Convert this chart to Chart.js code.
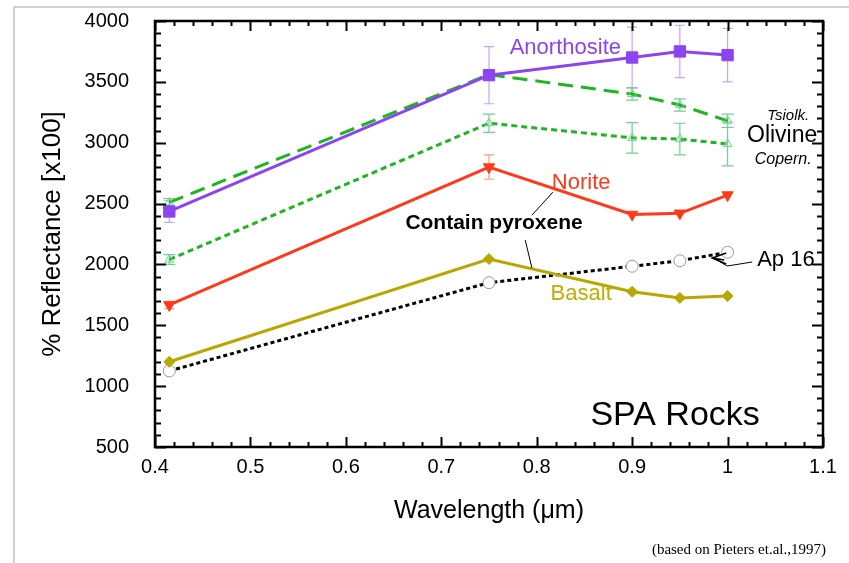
<!DOCTYPE html>
<html><head><meta charset="utf-8">
<script src="https://cdn.jsdelivr.net/npm/chart.js@4.4.0/dist/chart.umd.min.js"></script>
<style>html,body{margin:0;padding:0;background:#fff;overflow:hidden}</style>
</head><body>
<canvas id="c" width="849" height="563"></canvas>
<script>
// ---- data ----
const wavelengths = [0.415, 0.75, 0.9, 0.95, 1.0];
const anorthosite = [2435, 3555, 3700, 3750, 3720];
const anorthositeErr = [90, 235, 250, 215, 220];
const olivineTsiolk = [2510, 3560, 3400, 3310, 3180];
const olivineTsiolkErr = [30, 0, 50, 50, 55];
const olivineCopern = [2040, 3160, 3040, 3030, 2990];
const olivineCopernErr = [40, 75, 125, 130, 180];
const norite = [1667, 2800, 2410, 2420, 2570];
const noriteErr = [30, 100, 0, 0, 0];
const basalt = [1200, 2045, 1775, 1725, 1740];
const ap16 = [1125, 1850, 1985, 2030, 2100];
const xTickLabels = ['0.4','0.5','0.6','0.7','0.8','0.9','1','1.1'];
const yTickLabels = ['500','1000','1500','2000','2500','3000','3500','4000'];

const SANS = '"Liberation Sans", Arial, Helvetica, sans-serif';
const pts = arr => arr.map((v, i) => ({x: wavelengths[i], y: v}));

const PURPLE = '#8a44f0', GREEN = '#1fb51f', LGREEN = '#6fd08f', RED = '#ff3a1a', OLIVE = '#b7a700';

const frameAndErrors = {
  id: 'frameAndErrors',
  beforeDraw(chart) {
    const ctx = chart.ctx;
    ctx.save();
    ctx.strokeStyle = '#c4c4c4';
    ctx.lineWidth = 1.5;
    ctx.beginPath();
    ctx.moveTo(14, 563); ctx.lineTo(14, 7); ctx.lineTo(849, 7);
    ctx.stroke();
    ctx.restore();
  },
  beforeDatasetsDraw(chart) {
    const ctx = chart.ctx, xs = chart.scales.x, ys = chart.scales.y;
    ctx.save();
    chart.data.datasets.forEach(ds => {
      if (!ds.errors) return;
      ctx.strokeStyle = ds.errColor;
      ctx.lineWidth = 1.2;
      ds.data.forEach((p, i) => {
        const e = ds.errors[i];
        if (!e) return;
        const px = xs.getPixelForValue(p.x);
        const y1 = ys.getPixelForValue(p.y + e), y2 = ys.getPixelForValue(p.y - e);
        const w = ds.capWidth;
        ctx.beginPath();
        ctx.moveTo(px, y1); ctx.lineTo(px, y2);
        ctx.moveTo(px - w, y1); ctx.lineTo(px + w, y1);
        ctx.moveTo(px - w, y2); ctx.lineTo(px + w, y2);
        ctx.stroke();
      });
    });
    ctx.restore();
  },
  afterDraw(chart) {
    const ctx = chart.ctx, xs = chart.scales.x, ys = chart.scales.y;
    const a = chart.chartArea;
    ctx.save();
    ctx.strokeStyle = '#000';
    ctx.lineWidth = 2;
    for (let k = 0; k <= 35; k++) {
      const v = 0.4 + k * 0.02;
      const px = Math.round(xs.getPixelForValue(v)) + 0.5;
      const len = (k % 5 === 0) ? 10 : 5;
      ctx.beginPath();
      ctx.moveTo(px, a.bottom); ctx.lineTo(px, a.bottom - len);
      ctx.moveTo(px, a.top); ctx.lineTo(px, a.top + len);
      ctx.stroke();
    }
    for (let k = 0; k <= 35; k++) {
      const v = 500 + k * 100;
      const py = Math.round(ys.getPixelForValue(v)) + 0.5;
      const len = (k % 5 === 0) ? 11 : 6;
      ctx.beginPath();
      ctx.moveTo(a.left, py); ctx.lineTo(a.left + len, py);
      ctx.moveTo(a.right, py); ctx.lineTo(a.right - len, py);
      ctx.stroke();
    }
    ctx.lineWidth = 2.5;
    ctx.strokeRect(a.left, a.top, a.right - a.left, a.bottom - a.top);

    const X = v => xs.getPixelForValue(v), Y = v => ys.getPixelForValue(v);
    const cfg = chart.options.plugins.frameAndErrors;
    cfg.texts.forEach(t => {
      ctx.font = t.font;
      ctx.fillStyle = t.color;
      ctx.textAlign = t.align || 'center';
      ctx.textBaseline = 'middle';
      ctx.fillText(t.text, X(t.x), Y(t.y));
    });
    ctx.strokeStyle = '#000';
    ctx.lineWidth = 1;
    cfg.lines.forEach(l => {
      ctx.beginPath();
      l.forEach((p, i) => i ? ctx.lineTo(X(p[0]), Y(p[1])) : ctx.moveTo(X(p[0]), Y(p[1])));
      ctx.stroke();
    });
    const tx = X(cfg.arrowTip[0]), ty = Y(cfg.arrowTip[1]);
    ctx.lineWidth = 1.5;
    ctx.beginPath();
    ctx.moveTo(tx + 14, ty - 5); ctx.lineTo(tx, ty); ctx.lineTo(tx + 14, ty + 6);
    ctx.moveTo(tx, ty); ctx.lineTo(tx + 12, ty + 2);
    ctx.stroke();
    ctx.font = '15px "Liberation Serif", "Times New Roman", serif';
    ctx.fillStyle = '#000';
    ctx.textAlign = 'right';
    ctx.textBaseline = 'middle';
    ctx.fillText('(based on Pieters et.al.,1997)', 826, 550);
    ctx.restore();
  }
};

new Chart(document.getElementById('c'), {
  type: 'line',
  data: {
    datasets: [
      { label: 'Anorthosite', data: pts(anorthosite), errors: anorthositeErr, errColor: '#c9a3f7', capWidth: 5,
        borderColor: PURPLE, backgroundColor: PURPLE, borderWidth: 3,
        pointStyle: 'rect', pointRadius: 8, pointBorderWidth: 1, pointBorderColor: PURPLE },
      { label: 'Olivine Tsiolk.', data: pts(olivineTsiolk), errors: olivineTsiolkErr, errColor: LGREEN, capWidth: 6,
        borderColor: GREEN, borderWidth: 3, borderDash: [15, 8],
        pointStyle: 'triangle', pointRadius: 5, pointBorderWidth: 1, pointBorderColor: LGREEN, pointBackgroundColor: 'rgba(255,255,255,0)' },
      { label: 'Olivine Copern.', data: pts(olivineCopern), errors: olivineCopernErr, errColor: LGREEN, capWidth: 6,
        borderColor: GREEN, borderWidth: 3, borderDash: [6, 4],
        pointStyle: 'triangle', pointRadius: 5, pointBorderWidth: 1, pointBorderColor: LGREEN, pointBackgroundColor: 'rgba(255,255,255,0)' },
      { label: 'Norite', data: pts(norite), errors: noriteErr, errColor: '#ff9a80', capWidth: 5,
        borderColor: RED, backgroundColor: RED, borderWidth: 3,
        pointStyle: 'triangle', pointRotation: 180, pointRadius: 6.5, pointBorderWidth: 1, pointBorderColor: RED },
      { label: 'Basalt', data: pts(basalt),
        borderColor: OLIVE, backgroundColor: OLIVE, borderWidth: 3,
        pointStyle: 'rectRot', pointRadius: 5.5, pointBorderWidth: 1, pointBorderColor: OLIVE },
      { label: 'Ap 16', data: pts(ap16),
        borderColor: '#000', borderWidth: 3, borderDash: [4, 3],
        pointStyle: 'circle', pointRadius: 6, pointBorderWidth: 1, pointBorderColor: '#999', pointBackgroundColor: '#fff' }
    ]
  },
  options: {
    responsive: false,
    animation: false,
    devicePixelRatio: 1,
    layout: { padding: { left: 0, right: 26, top: 21, bottom: 0 } },
    plugins: {
      legend: { display: false },
      tooltip: { enabled: false },
      frameAndErrors: {
        texts: [
          { text: 'Anorthosite', x: 0.830, y: 3778, font: '22px ' + SANS, color: PURPLE },
          { text: 'Norite', x: 0.8466, y: 2669, font: '22px ' + SANS, color: RED },
          { text: 'Basalt', x: 0.8466, y: 1760, font: '22px ' + SANS, color: '#bfae00' },
          { text: 'Contain pyroxene', x: 0.7553, y: 2340, font: 'bold 21px ' + SANS, color: '#000' },
          { text: 'Ap 16', x: 1.031, y: 2036, font: '22px ' + SANS, color: '#000', align: 'left' },
          { text: 'Tsiolk.', x: 1.0635, y: 3219, font: 'italic 15px ' + SANS, color: '#000' },
          { text: 'Olivine', x: 1.0572, y: 3055, font: '23px ' + SANS, color: '#000' },
          { text: 'Copern.', x: 1.0583, y: 2858, font: 'italic 16px ' + SANS, color: '#000' },
          { text: 'SPA Rocks', x: 0.945, y: 755, font: '34px ' + SANS, color: '#000' }
        ],
        lines: [
          [[0.817, 2594], [0.795, 2405]],
          [[0.788, 2200], [0.795, 1970]],
          [[1.0258, 2020], [0.9996, 1987], [0.987, 2045]]
        ],
        arrowTip: [0.9839, 2053]
      }
    },
    scales: {
      x: {
        type: 'linear', min: 0.4, max: 1.1,
        afterFit: s => { s.height = 116; s.paddingLeft = 0; s.paddingRight = 0; },
        grid: { display: false, drawTicks: false },
        border: { display: false },
        ticks: { stepSize: 0.1, padding: 8, color: '#000', font: { family: SANS, size: 20 },
                 maxRotation: 0, autoSkip: false,
                 callback: (v, i) => xTickLabels[i] },
        title: { display: true, text: 'Wavelength (μm)', color: '#000',
                 font: { family: SANS, size: 25 }, padding: { top: 0, bottom: 37 } }
      },
      y: {
        type: 'linear', min: 500, max: 4000,
        afterFit: s => { s.width = 155; s.paddingTop = 0; s.paddingBottom = 0; },
        grid: { display: false, drawTicks: false },
        border: { display: false },
        ticks: { stepSize: 500, padding: 26, color: '#000', font: { family: SANS, size: 20 },
                 autoSkip: false, callback: (v, i) => yTickLabels[i] },
        title: { display: true, text: '% Reflectance [x100]', color: '#000',
                 font: { family: SANS, size: 26 }, padding: { top: 37, bottom: 0 } }
      }
    }
  },
  plugins: [frameAndErrors]
});
</script>
</body></html>
